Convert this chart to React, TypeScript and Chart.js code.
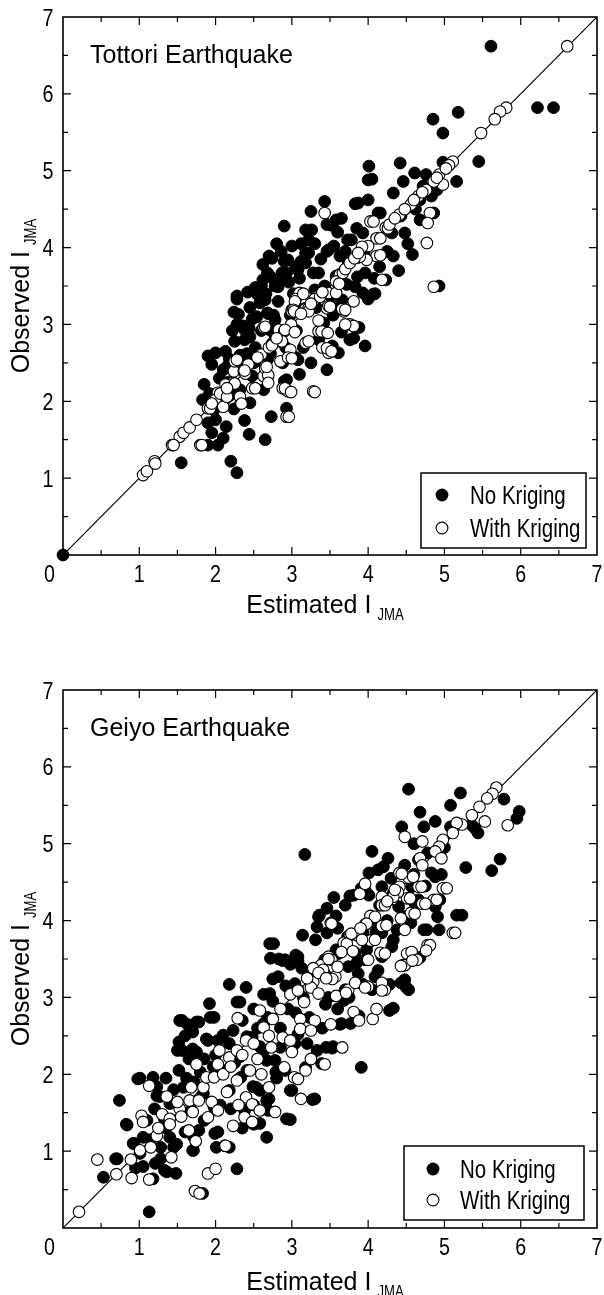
import React, { useEffect, useRef } from 'react';
import { Chart, registerables } from 'chart.js';

Chart.register(...registerables);

type Pt = [number, number];

// ---- axis / text definitions ----
const axisMin = 0;
const axisMax = 7;
const majorTicks = [0, 1, 2, 3, 4, 5, 6, 7];
const minorTicks = [0.5, 1.5, 2.5, 3.5, 4.5, 5.5, 6.5];
const legendLabels = ['No Kriging', 'With Kriging'];
const xTitleMain = 'Estimated I';
const yTitleMain = 'Observed I';
const titleSub = 'JMA';
const panelTitles = ['Tottori Earthquake', 'Geiyo Earthquake'];
const diagonalLine: Pt[] = [[0, 0], [7, 7]];

// ---- Tottori data ----
const tottoriNoKriging: Pt[] = [
  [0, 0],
  [5.61, 6.62], [6.22, 5.82], [6.43, 5.82], [4.85, 5.67], [5.18, 5.76], [4.98, 5.49], [5.45, 5.12], [4.98, 5.11], [5.16, 4.86],
  [4.42, 5.10], [4.61, 4.97], [4.76, 4.95], [4.01, 5.06], [4.00, 4.88], [4.00, 4.62], [3.83, 4.57], [3.43, 4.60], [3.25, 4.47],
  [3.58, 4.36], [3.46, 4.30], [2.90, 4.28], [3.18, 4.23], [4.33, 4.71], [4.46, 4.86], [4.43, 4.41], [4.13, 4.45], [4.68, 4.62],
  [4.83, 4.67], [4.86, 4.45], [4.68, 4.36], [3.93, 4.19], [3.73, 4.10], [4.31, 4.19], [4.48, 4.19], [4.58, 3.91], [4.33, 3.89],
  [2.70, 3.89], [2.90, 3.82], [3.18, 3.93], [3.46, 3.95], [3.63, 3.89], [3.18, 3.80], [3.96, 3.67], [4.08, 3.60], [4.23, 3.58],
  [4.93, 3.50], [4.06, 3.39], [3.93, 3.41], [2.28, 3.37], [2.55, 3.39], [2.78, 3.50], [2.68, 3.67], [2.93, 3.67], [3.28, 3.67],
  [3.58, 3.63], [3.43, 3.50],
  [3.65, 4.38], [3.52, 4.29], [3.26, 4.23], [3.22, 4.10], [2.74, 3.86], [2.95, 3.84], [3.22, 3.93], [3.48, 3.97], [3.78, 4.10],
  [3.87, 4.58], [2.87, 3.67], [3.08, 3.71], [3.35, 3.67], [2.82, 3.49], [4.09, 3.40], [3.83, 3.49], [3.52, 3.36], [2.69, 3.14],
  [2.65, 3.32], [4.05, 4.89], [4.16, 4.45],
  [2.28, 3.33], [2.28, 3.00], [2.30, 3.13], [2.38, 2.80], [1.90, 2.59], [2.00, 2.63], [2.13, 2.65], [1.95, 2.48], [2.10, 2.41],
  [1.85, 2.22], [1.83, 2.02], [1.98, 1.89], [1.90, 1.72], [1.95, 1.59], [1.90, 1.43], [2.03, 1.43], [2.14, 1.67], [1.55, 1.20],
  [2.20, 1.22], [2.28, 1.07], [2.44, 1.57], [2.65, 1.50], [2.73, 1.80], [2.93, 1.91], [2.90, 2.26], [3.10, 2.35], [2.63, 2.15],
  [2.45, 1.98], [2.48, 2.33], [3.05, 2.57], [3.61, 2.63], [3.46, 2.41], [3.76, 2.80], [3.96, 2.72], [3.88, 2.96], [3.53, 2.72],
  [2.38, 2.93], [2.68, 3.15], [2.48, 3.07], [2.78, 2.85], [2.88, 2.50], [2.68, 2.54], [2.18, 2.07], [2.28, 2.15], [2.00, 1.76],
  [4.00, 3.33],
  [2.54, 3.10], [2.45, 2.84], [2.71, 2.93], [2.41, 2.62], [2.15, 2.45], [2.01, 1.93], [2.32, 2.15], [2.17, 2.25],
  [3.81, 2.82], [2.93, 2.28], [3.08, 2.54], [2.74, 2.75], [2.78, 3.06],
  [2.42, 3.42], [2.62, 3.58], [2.58, 3.28], [2.62, 3.78], [2.45, 3.22], [2.82, 3.30], [2.76, 3.12], [3.00, 4.02], [3.10, 3.60],
  [3.02, 3.40], [2.60, 2.92], [2.52, 2.70], [2.72, 2.62], [2.92, 2.70], [3.06, 2.92], [3.32, 3.22], [3.42, 3.02], [3.54, 3.12],
  [3.66, 3.32], [3.72, 3.52], [3.12, 3.82], [3.74, 3.80], [3.86, 3.62], [2.22, 2.92], [2.24, 3.16], [2.36, 2.98], [2.80, 4.05],
  [2.25, 2.78], [2.32, 2.60], [2.44, 2.95], [2.52, 3.48], [2.60, 3.50], [2.66, 3.40], [2.72, 3.62], [2.86, 3.58], [2.86, 3.95],
  [2.96, 3.55], [3.05, 3.75], [3.12, 4.05], [3.30, 4.05], [3.38, 3.85], [3.55, 4.02], [3.60, 4.20], [3.70, 3.95], [3.85, 4.25],
  [3.95, 3.95], [4.15, 3.75], [4.25, 3.95], [4.40, 3.70], [4.52, 4.05], [4.62, 4.50], [4.72, 4.80], [4.90, 4.75], [2.50, 2.50],
  [2.58, 2.60], [2.34, 2.48], [2.18, 2.55], [2.05, 2.30], [2.12, 2.02], [1.92, 2.10], [2.24, 1.90], [2.38, 1.75], [2.10, 1.52],
  [3.15, 2.70], [3.25, 2.50], [3.35, 2.80], [3.65, 2.90], [3.58, 3.22], [3.30, 3.45], [3.15, 3.20], [2.98, 3.12],
];

const tottoriWithKriging: Pt[] = [
  [6.61, 6.62], [5.81, 5.82], [5.73, 5.77], [5.66, 5.67], [5.48, 5.49], [5.11, 5.12], [5.06, 5.07], [4.98, 4.82], [4.93, 4.95],
  [4.86, 4.86], [4.76, 4.75], [4.66, 4.67], [4.56, 4.56], [4.41, 4.43], [4.81, 4.45], [4.78, 4.32], [4.77, 4.06], [4.23, 4.26],
  [4.11, 4.12], [4.03, 4.34], [4.11, 3.89], [3.98, 3.84], [3.93, 4.00], [3.86, 3.87], [3.43, 4.45], [4.18, 3.58], [4.86, 3.49],
  [4.00, 4.02], [3.63, 3.65], [3.58, 3.56], [3.48, 3.41], [3.33, 3.36], [3.58, 3.41], [3.10, 3.41], [3.00, 3.19], [3.18, 3.21],
  [3.46, 3.21], [3.68, 3.17], [3.81, 3.30],
  [1.05, 1.04], [1.10, 1.09], [1.20, 1.22], [1.43, 1.43], [1.53, 1.54], [1.58, 1.59], [1.66, 1.66], [1.75, 1.76], [1.80, 1.43],
  [1.90, 1.91], [2.03, 2.11], [2.00, 2.02], [2.10, 1.93], [2.33, 1.98], [2.23, 2.24], [2.13, 2.22], [2.24, 2.39], [2.25, 2.52],
  [2.37, 2.39], [2.48, 2.17], [2.43, 2.48], [2.63, 2.33], [2.60, 2.61], [2.65, 2.46], [2.63, 2.96], [2.70, 2.70], [2.85, 2.78],
  [2.83, 2.93], [2.90, 2.91], [2.98, 2.67], [3.00, 3.17], [2.99, 3.00], [3.18, 3.20], [3.18, 2.76], [2.85, 2.52], [2.95, 2.57],
  [2.88, 2.17], [2.95, 2.13], [2.93, 1.80], [3.28, 2.13], [3.35, 2.91], [3.45, 2.89], [3.40, 2.70], [3.48, 2.63], [3.48, 3.24],
  [3.66, 3.20], [3.76, 3.00], [3.30, 3.33], [3.05, 3.33],
  [4.07, 4.34], [4.26, 4.25], [4.16, 4.12], [3.92, 4.01], [3.89, 3.88], [4.16, 3.90], [3.67, 3.67], [3.62, 3.53], [3.37, 3.36],
  [3.15, 3.40], [3.04, 3.30], [3.22, 3.21], [3.50, 3.23], [3.70, 3.19], [3.02, 3.19],
  [2.65, 2.97], [2.28, 2.54], [2.39, 2.36], [2.65, 2.43], [2.69, 2.34], [2.52, 2.17], [2.25, 2.23], [2.06, 2.10], [2.15, 2.06],
  [2.32, 2.06], [2.34, 1.97], [1.93, 1.91], [1.82, 1.43], [1.45, 1.43], [1.21, 1.19],
  [3.03, 3.17], [3.22, 3.17], [2.91, 2.93], [3.04, 2.90], [2.87, 2.78], [3.22, 2.78], [3.00, 2.56], [2.74, 2.73], [2.67, 2.45],
  [3.39, 2.91], [3.47, 2.89], [3.46, 2.69], [3.52, 2.65], [3.81, 2.98], [3.70, 3.00], [3.35, 3.05], [2.91, 2.17], [2.99, 2.12],
  [3.30, 2.12], [2.96, 1.80], [2.69, 2.24],
  [3.70, 3.72], [3.76, 3.80], [3.82, 3.86], [3.87, 3.93], [4.28, 4.30], [4.35, 4.38], [4.48, 4.50], [4.60, 4.62], [4.71, 4.72],
  [4.90, 4.91], [5.02, 5.03], [3.40, 3.42], [3.25, 3.27], [3.12, 3.14], [2.80, 2.82], [2.55, 2.57], [2.38, 2.40], [2.15, 2.17],
  [1.95, 1.97],
];

// ---- Geiyo data ----
const geiyoNoKriging: Pt[] = [
  [4.53, 5.71], [5.21, 5.66], [5.08, 5.50], [4.68, 5.41], [5.78, 5.58], [5.98, 5.42], [5.95, 5.33], [4.88, 5.29], [4.73, 5.22],
  [5.08, 5.22], [5.36, 5.24], [5.44, 5.14], [4.26, 4.81], [5.73, 4.80], [5.28, 4.69], [5.62, 4.65], [3.17, 4.86], [4.01, 4.62],
  [4.13, 4.66], [4.48, 4.72], [4.78, 4.88], [4.83, 4.62], [4.96, 4.60], [3.76, 4.32], [3.91, 4.42], [4.01, 4.33], [4.18, 4.44],
  [4.43, 4.62], [4.33, 4.36], [4.61, 4.23], [4.88, 4.18], [4.91, 4.05], [5.16, 4.07], [4.48, 4.05], [4.38, 3.88], [4.56, 3.97],
  [4.73, 3.88], [4.93, 3.88], [3.36, 4.07], [3.46, 4.16], [3.58, 4.06], [3.33, 3.92], [3.46, 3.84], [3.14, 3.81], [3.31, 3.75],
  [2.71, 3.70], [2.72, 3.51], [2.88, 3.48], [3.05, 3.55], [3.13, 3.38], [3.73, 3.79], [3.93, 3.84], [4.06, 3.99], [4.18, 3.84],
  [4.33, 3.75], [3.98, 3.62], [4.18, 3.53], [3.83, 3.58], [3.58, 3.62], [3.43, 3.49],
  [4.44, 5.22], [5.40, 5.20], [4.88, 4.57], [4.66, 4.27], [4.40, 4.18], [4.57, 4.44], [4.66, 4.79], [3.96, 4.40], [3.81, 4.33],
  [3.35, 4.05], [2.76, 3.70], [2.91, 3.49], [3.08, 3.53], [2.82, 3.27], [5.23, 4.07], [4.77, 3.88], [4.94, 4.27], [4.48, 3.23],
  [3.96, 3.49], [3.87, 3.31], [4.09, 3.27], [4.31, 3.66], [3.61, 3.57], [3.74, 3.40], [3.43, 3.31], [3.24, 3.31], [3.04, 3.18],
  [3.70, 3.10], [4.05, 3.10], [2.71, 3.05],
  [2.18, 3.17], [2.40, 3.13], [2.28, 2.94], [1.92, 2.92], [1.53, 2.70], [1.63, 2.65], [1.78, 2.68], [1.93, 2.74], [1.98, 2.74],
  [1.70, 2.55], [1.52, 2.42], [1.50, 2.31], [1.88, 2.46], [2.03, 2.44], [1.70, 2.33], [1.52, 2.05], [1.58, 1.83], [0.98, 1.94],
  [1.18, 1.96], [1.23, 1.72], [0.74, 1.66], [0.83, 1.35], [0.93, 1.10], [1.05, 1.18], [1.28, 1.05], [1.28, 0.90], [0.69, 0.90],
  [0.53, 0.66], [1.18, 0.64], [1.33, 0.75], [1.48, 0.71], [1.13, 0.21], [2.28, 0.77], [1.83, 0.45], [2.18, 1.05], [2.03, 1.25],
  [1.70, 1.01], [1.78, 1.27], [2.93, 1.42], [2.50, 1.35], [3.27, 1.67], [3.91, 2.09], [3.53, 2.34], [4.28, 2.83], [4.50, 3.13],
  [4.43, 3.19], [4.28, 3.17], [3.88, 2.76], [3.63, 2.65], [3.48, 3.00], [3.08, 3.48], [2.83, 3.50], [2.98, 3.43], [2.75, 3.24],
  [2.63, 3.04], [2.68, 2.74], [2.48, 2.48], [2.63, 2.31], [2.78, 2.18], [2.98, 1.79], [2.53, 1.83], [2.33, 1.96], [2.18, 1.79],
  [1.98, 1.57], [2.38, 1.53], [2.68, 1.66], [3.18, 2.09], [3.33, 2.31], [3.08, 2.52], [3.23, 2.74], [3.68, 2.96], [3.93, 3.17],
  [4.13, 3.35], [4.68, 3.52], [1.33, 1.42], [1.68, 1.53], [1.45, 1.05],
  [2.32, 2.94], [1.56, 2.70], [1.75, 2.68], [1.56, 2.31], [1.75, 2.29], [1.90, 2.44], [1.01, 1.95], [0.84, 1.34], [0.71, 0.90],
  [1.36, 0.73], [1.23, 1.84], [1.27, 1.71], [0.92, 1.10], [1.01, 0.97], [1.21, 0.84], [2.01, 1.05], [2.12, 1.07], [1.71, 1.01],
  [1.99, 1.23], [1.71, 1.19], [1.40, 1.18], [1.49, 1.09], [2.58, 1.36], [2.67, 1.18], [2.06, 1.60], [1.84, 1.75], [1.40, 1.62],
  [1.80, 2.03], [1.97, 2.10], [2.10, 2.05], [2.32, 2.23], [2.41, 2.05], [2.49, 1.84], [2.58, 1.79], [2.67, 1.66], [2.67, 2.18],
  [2.58, 2.36], [2.41, 2.49], [2.23, 2.57], [2.10, 2.51], [2.63, 2.66],
  [4.33, 2.86], [3.30, 1.68], [2.98, 1.41], [3.54, 2.36], [3.00, 1.79], [2.70, 1.68], [2.69, 1.53], [3.39, 2.14], [3.65, 2.66],
  [3.77, 2.66], [2.91, 2.05], [3.04, 2.40], [2.79, 2.03], [3.44, 2.91], [4.53, 3.10],
  [1.60, 2.50], [1.65, 2.20], [1.62, 1.95], [1.72, 1.90], [1.85, 2.20], [2.00, 2.25], [2.18, 2.40], [2.25, 2.15], [2.35, 2.70],
  [2.50, 2.85], [2.55, 2.60], [2.75, 2.95], [2.85, 2.60], [2.95, 2.85], [2.92, 3.15], [3.05, 2.80], [3.15, 3.00], [3.20, 2.40],
  [3.40, 2.60], [3.45, 2.35], [3.60, 2.85], [3.75, 3.00], [3.85, 3.45], [4.00, 3.70], [4.10, 3.85], [4.25, 4.00], [4.15, 4.20],
  [4.30, 4.55], [3.70, 4.20], [3.60, 3.90], [3.55, 4.30], [4.05, 4.90], [4.20, 4.70], [4.60, 4.60], [4.75, 4.45], [5.00, 4.95],
  [4.60, 5.00], [1.10, 1.40], [1.20, 1.55], [1.35, 1.95], [1.45, 1.80], [1.15, 1.15], [1.35, 1.30], [1.60, 1.25], [1.85, 1.40],
  [2.20, 1.55], [2.35, 1.30], [2.50, 1.60], [2.80, 1.95], [2.85, 2.35], [1.05, 0.80], [0.95, 0.78],
];

const geiyoWithKriging: Pt[] = [
  [5.68, 5.73], [5.63, 5.65], [5.56, 5.59], [5.46, 5.48], [5.53, 5.29], [5.36, 5.37], [5.23, 5.25], [5.16, 5.27], [5.11, 5.14],
  [5.83, 5.24], [4.48, 5.09], [4.71, 5.03], [4.98, 5.05], [4.93, 4.96], [4.88, 4.90], [4.96, 4.81], [4.68, 4.81], [4.71, 4.72],
  [4.41, 4.62], [4.53, 4.56], [4.41, 4.44], [4.66, 4.44], [4.98, 4.42], [4.51, 4.29], [4.32, 4.28], [4.18, 4.31], [4.18, 4.20],
  [4.86, 4.27], [4.71, 4.22], [4.56, 4.10], [4.43, 4.03], [4.48, 3.88], [4.03, 4.06], [3.96, 3.95], [4.18, 3.93], [3.51, 3.97],
  [3.76, 3.81], [3.68, 3.71], [3.86, 3.81], [4.06, 3.75], [4.16, 3.58], [4.03, 3.74], [4.78, 3.68], [5.11, 3.84], [4.51, 3.57],
  [4.58, 3.48], [4.46, 3.42], [3.48, 3.53], [3.38, 3.42], [3.28, 3.38],
  [4.44, 4.61], [4.59, 4.57], [4.70, 4.44], [5.03, 4.42], [4.39, 4.37], [4.22, 4.20], [4.09, 4.05], [4.55, 4.29], [4.75, 4.22],
  [4.61, 4.09], [4.90, 4.27], [5.14, 3.84], [4.81, 3.68], [4.57, 3.59], [4.64, 3.49], [4.48, 3.42], [4.24, 3.94], [3.98, 3.96],
  [4.09, 3.75], [4.22, 3.57], [3.92, 3.75], [3.72, 3.70], [3.52, 3.96], [3.78, 3.83], [3.65, 3.59], [3.52, 3.49], [3.41, 3.36],
  [3.57, 3.27], [3.74, 3.10], [4.00, 3.14], [4.22, 3.10], [3.28, 3.20], [3.08, 3.10], [4.00, 3.49], [3.89, 4.35], [3.96, 4.48],
  [4.33, 4.31],
  [0.21, 0.21], [0.45, 0.89], [0.70, 0.70], [0.90, 0.65], [0.89, 0.89], [1.01, 1.01], [1.13, 0.63], [1.03, 1.46], [1.05, 1.38],
  [1.13, 1.85], [1.23, 1.20], [1.30, 1.48], [1.36, 1.71], [1.40, 1.42], [1.42, 0.92], [1.53, 1.55], [1.50, 1.64], [1.66, 1.66],
  [1.70, 1.51], [1.65, 1.27], [1.74, 1.13], [1.75, 2.13], [1.68, 1.83], [1.84, 1.83], [1.88, 1.96], [1.78, 1.66], [1.95, 1.64],
  [1.90, 1.44], [2.03, 1.53], [1.90, 0.71], [2.00, 0.77], [1.73, 0.48], [1.79, 0.45], [2.13, 1.07], [2.23, 1.33], [2.05, 2.31],
  [2.03, 2.13], [2.18, 2.22], [2.28, 2.31], [2.29, 2.73], [2.40, 2.44], [1.98, 1.96], [2.15, 1.77], [2.28, 1.92], [2.40, 1.70],
  [2.48, 1.61], [2.58, 1.53], [2.38, 1.44], [2.48, 1.38], [2.58, 2.83], [2.63, 2.61], [2.70, 2.50], [2.73, 2.35], [2.75, 2.72],
  [2.70, 1.83], [2.78, 1.51], [2.90, 2.09], [2.88, 2.48], [2.98, 2.44], [3.00, 2.29], [2.85, 2.85], [2.98, 3.04], [3.08, 3.09],
  [3.16, 2.94], [3.11, 2.72], [3.11, 2.59], [3.03, 1.96], [3.08, 1.94], [3.18, 2.05], [3.12, 1.68], [3.25, 2.20], [3.30, 2.70],
  [3.25, 2.57], [3.25, 3.13], [3.35, 3.32], [3.48, 3.50], [3.53, 3.24], [3.51, 2.65], [3.43, 2.13], [3.66, 2.35], [3.58, 3.02],
  [3.71, 3.06], [3.81, 2.81], [3.83, 3.19], [3.96, 3.13], [3.88, 2.70], [4.06, 2.72], [4.11, 2.85], [4.18, 3.19], [4.18, 3.09],
  [4.43, 3.41], [4.58, 3.48], [4.76, 3.61],
  [2.10, 2.00], [2.20, 2.10], [2.35, 2.25], [2.50, 2.40], [2.55, 2.20], [2.45, 2.05], [2.60, 2.00], [2.30, 1.60], [1.40, 1.35],
  [1.55, 1.45], [1.25, 1.30], [1.15, 1.05], [3.20, 3.25], [3.35, 3.05], [3.45, 3.25], [3.60, 3.40], [3.80, 3.60], [3.90, 3.90],
  [4.25, 4.25], [4.35, 4.40],
];

// ---- layout / style constants (not data) ----
const FONT = "'Liberation Sans', Arial, sans-serif";
const NARROW_SCALE = 0.82;

interface LegendBox { x0: number; y0: number; x1: number; y1: number; mx: number; tx: number; r1: number; r2: number }
interface PanelCfg {
  title: string;
  noK: Pt[];
  withK: Pt[];
  height: number;
  padTop: number;
  xAxisH: number;
  legend: LegendBox;
  xTitleBase: number;
}

const toXY = (pts: Pt[]) => pts.map(([x, y]) => ({ x, y }));

function narrowText(ctx: CanvasRenderingContext2D, text: string, x: number, y: number, size: number, align: CanvasTextAlign) {
  ctx.save();
  ctx.translate(x, y);
  ctx.scale(NARROW_SCALE, 1);
  ctx.font = `${size}px ${FONT}`;
  ctx.textAlign = align;
  ctx.textBaseline = 'alphabetic';
  ctx.fillText(text, 0, 0);
  ctx.restore();
}

function narrowWidth(ctx: CanvasRenderingContext2D, text: string, size: number) {
  ctx.save();
  ctx.font = `${size}px ${FONT}`;
  const w = ctx.measureText(text).width * NARROW_SCALE;
  ctx.restore();
  return w;
}

function makeOverlay(cfg: PanelCfg) {
  return {
    id: 'overlay',
    beforeDatasetsDraw(chart: any) {
      const { ctx, chartArea: a, scales } = chart;
      const xs = scales.x;
      const ys = scales.y;
      ctx.save();
      ctx.strokeStyle = '#000';
      ctx.lineWidth = 1.2;
      ctx.beginPath();
      const drawTick = (v: number, len: number) => {
        if (v <= axisMin || v >= axisMax) return;
        const px = xs.getPixelForValue(v);
        const py = ys.getPixelForValue(v);
        ctx.moveTo(px, a.bottom); ctx.lineTo(px, a.bottom - len);
        ctx.moveTo(px, a.top); ctx.lineTo(px, a.top + len);
        ctx.moveTo(a.left, py); ctx.lineTo(a.left + len, py);
        ctx.moveTo(a.right, py); ctx.lineTo(a.right - len, py);
      };
      majorTicks.forEach((v) => drawTick(v, 8));
      minorTicks.forEach((v) => drawTick(v, 5));
      ctx.stroke();
      ctx.lineWidth = 1.6;
      ctx.strokeRect(a.left, a.top, a.right - a.left, a.bottom - a.top);
      ctx.restore();
    },
    afterDraw(chart: any) {
      const { ctx, chartArea: a, scales } = chart;
      const xs = scales.x;
      const ys = scales.y;
      ctx.save();
      ctx.fillStyle = '#000';

      // tick labels from the library's tick list
      xs.ticks.forEach((t: any) => {
        const v = t.value;
        const px = v === 0 ? a.left - 13.5 : xs.getPixelForValue(v);
        narrowText(ctx, String(v), px, a.bottom + 26.5, 24, 'center');
      });
      ys.ticks.forEach((t: any) => {
        const v = t.value;
        if (v === 0) return;
        narrowText(ctx, String(v), a.left - 9.5, ys.getPixelForValue(v) + 8.6, 24, 'right');
      });

      // panel title
      ctx.font = `25px ${FONT}`;
      ctx.textAlign = 'left';
      ctx.textBaseline = 'alphabetic';
      ctx.fillText(cfg.title, a.left + 27, a.top + 46);

      // x title
      ctx.font = `25px ${FONT}`;
      const w1 = ctx.measureText(xTitleMain).width;
      const w2 = narrowWidth(ctx, titleSub, 16);
      const total = w1 + 6 + w2;
      const cx = (a.left + a.right) / 2 - 5;
      ctx.fillText(xTitleMain, cx - total / 2, cfg.xTitleBase);
      narrowText(ctx, titleSub, cx - total / 2 + w1 + 6, cfg.xTitleBase + 7, 16, 'left');

      // y title (rotated)
      ctx.font = `25px ${FONT}`;
      const v1 = ctx.measureText(yTitleMain).width;
      const v2 = narrowWidth(ctx, titleSub, 16);
      const vt = v1 + 6 + v2;
      ctx.save();
      ctx.translate(29, (a.top + a.bottom) / 2 + 10);
      ctx.rotate(-Math.PI / 2);
      ctx.font = `25px ${FONT}`;
      ctx.textAlign = 'left';
      ctx.fillText(yTitleMain, -vt / 2, 0);
      narrowText(ctx, titleSub, -vt / 2 + v1 + 6, 7, 16, 'left');
      ctx.restore();

      // legend
      const L = cfg.legend;
      ctx.fillStyle = '#fff';
      ctx.fillRect(L.x0, L.y0, L.x1 - L.x0, L.y1 - L.y0);
      ctx.strokeStyle = '#000';
      ctx.lineWidth = 1.5;
      ctx.strokeRect(L.x0, L.y0, L.x1 - L.x0, L.y1 - L.y0);
      ctx.beginPath();
      ctx.arc(L.mx, L.r1, 6.4, 0, Math.PI * 2);
      ctx.fillStyle = '#000';
      ctx.fill();
      ctx.beginPath();
      ctx.arc(L.mx, L.r2, 5.9, 0, Math.PI * 2);
      ctx.fillStyle = '#fff';
      ctx.fill();
      ctx.lineWidth = 1.1;
      ctx.stroke();
      ctx.fillStyle = '#000';
      narrowText(ctx, legendLabels[0], L.tx, L.r1 + 9, 25, 'left');
      narrowText(ctx, legendLabels[1], L.tx, L.r2 + 9, 25, 'left');
      ctx.restore();
    },
  };
}

function Panel({ cfg }: { cfg: PanelCfg }) {
  const ref = useRef<HTMLCanvasElement | null>(null);
  useEffect(() => {
    if (!ref.current) return;
    const chart = new Chart(ref.current, {
      type: 'scatter',
      data: {
        datasets: [
          {
            label: 'diagonal',
            data: toXY(diagonalLine),
            showLine: true,
            borderColor: '#000',
            borderWidth: 1.2,
            pointRadius: 0,
            order: 3,
          },
          {
            label: legendLabels[0],
            data: toXY(cfg.noK),
            backgroundColor: '#000',
            borderColor: '#000',
            borderWidth: 1,
            pointRadius: 5.9,
            clip: false,
            order: 2,
          },
          {
            label: legendLabels[1],
            data: toXY(cfg.withK),
            backgroundColor: '#fff',
            borderColor: '#000',
            borderWidth: 1.1,
            pointRadius: 5.8,
            clip: false,
            order: 1,
          },
        ],
      } as any,
      options: {
        responsive: false,
        animation: false,
        events: [],
        devicePixelRatio: 1,
        layout: { padding: { top: cfg.padTop, right: 7, left: 0, bottom: 0 } },
        plugins: { legend: { display: false }, tooltip: { enabled: false } },
        scales: {
          x: {
            type: 'linear',
            min: axisMin,
            max: axisMax,
            grid: { display: false, drawTicks: false },
            border: { display: false },
            ticks: { stepSize: 1, autoSkip: false, display: false },
            afterFit: (s: any) => { s.height = cfg.xAxisH; },
          },
          y: {
            type: 'linear',
            min: axisMin,
            max: axisMax,
            grid: { display: false, drawTicks: false },
            border: { display: false },
            ticks: { stepSize: 1, autoSkip: false, display: false },
            afterFit: (s: any) => { s.width = 63; },
          },
        },
      } as any,
      plugins: [makeOverlay(cfg)],
    });
    return () => chart.destroy();
  }, [cfg]);
  return (
    <canvas ref={ref} width={604} height={cfg.height} style={{ display: 'block', width: 604, height: cfg.height }} />
  );
}

const panels: PanelCfg[] = [
  {
    title: panelTitles[0],
    noK: tottoriNoKriging,
    withK: tottoriWithKriging,
    height: 640,
    padTop: 17,
    xAxisH: 85,
    legend: { x0: 421, y0: 473, x1: 586, y1: 548, mx: 442, tx: 470, r1: 495, r2: 528 },
    xTitleBase: 613,
  },
  {
    title: panelTitles[1],
    noK: geiyoNoKriging,
    withK: geiyoWithKriging,
    height: 655,
    padTop: 50,
    xAxisH: 67,
    legend: { x0: 404, y0: 506, x1: 584, y1: 580, mx: 433, tx: 460, r1: 529, r2: 560 },
    xTitleBase: 650,
  },
];

export default function App() {
  useEffect(() => {
    document.body.style.margin = '0';
  }, []);
  return (
    <div style={{ width: 604, background: '#fff' }}>
      {panels.map((p) => (
        <Panel key={p.title} cfg={p} />
      ))}
    </div>
  );
}
